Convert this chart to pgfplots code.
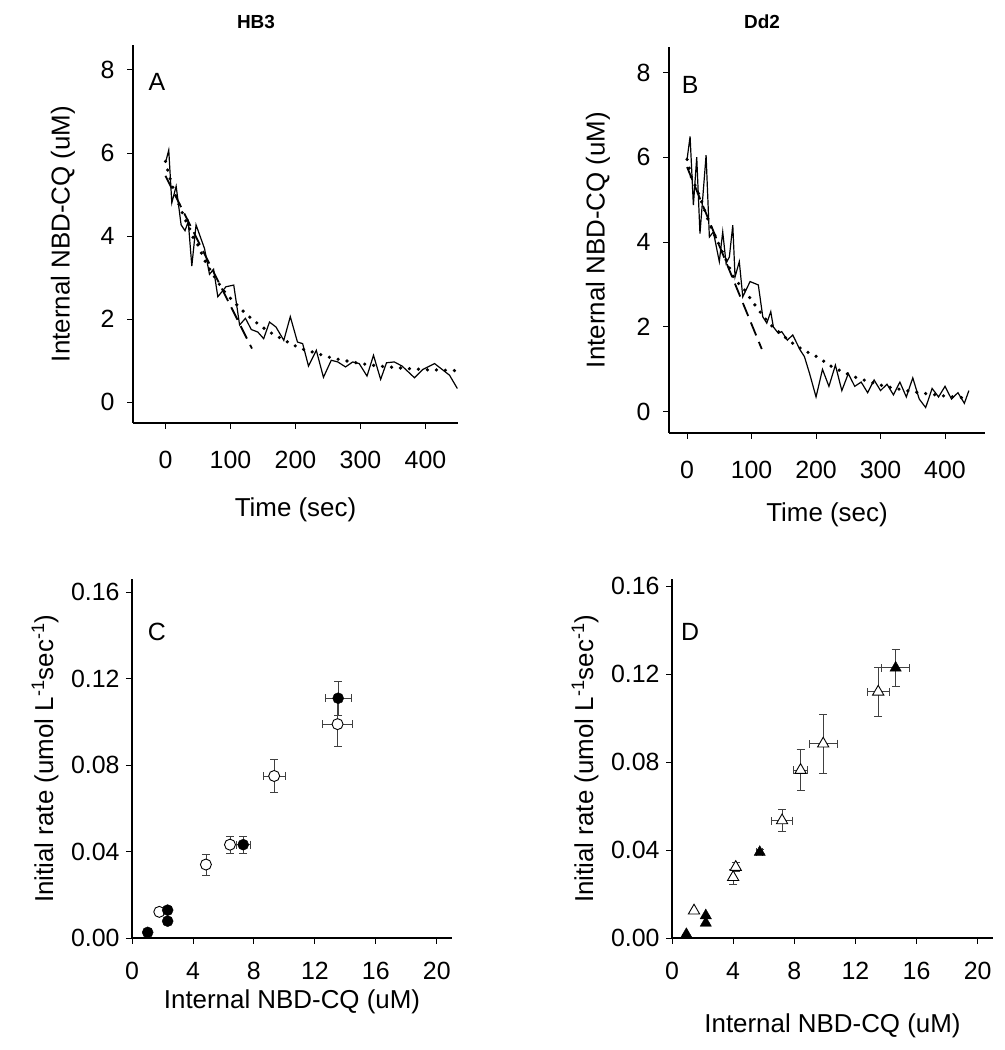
\documentclass[border=0pt]{standalone}
\usepackage{pgfplots}
\pgfplotsset{compat=1.18}
\usepackage{fontspec}
\setmainfont{Liberation Sans}
\pgfplotsset{
 base/.style={scale only axis, anchor=south west,
   axis x line*=bottom, axis y line*=left,
   axis line style={-, line width=1.1bp},
   tick align=outside, major tick length=6bp,
   tick style={line width=0.9bp, black},
   ticklabel style={font=\fontsize{25}{28}\selectfont},
   label style={font=\fontsize{26}{30}\selectfont},
   /pgf/number format/assume math mode=true, clip=false},
 raw/.style={black, line width=1.2bp, no markers},
 fit/.style={black, line width=3.6bp, dash pattern=on 0bp off 9bp, line cap=round, no markers},
 init/.style={black, line width=1.8bp, dash pattern=on 14bp off 7bp, no markers},
 eb/.style={error bars/.cd, x dir=both, x explicit, y dir=both, y explicit,
   error bar style={line width=0.8bp, black!75},
   error mark options={rotate=90, line width=0.8bp, black!75, mark size=4bp}},
}
\begin{document}
\begin{tikzpicture}
\useasboundingbox (0bp,0bp) rectangle (1005bp,1050bp);
\node[font=\bfseries\fontsize{19}{22}\selectfont] at (256bp,1028bp) {HB3};
\node[font=\bfseries\fontsize{19}{22}\selectfont] at (762bp,1028bp) {Dd2};

% Panel A
\begin{axis}[base, at={(133bp,627bp)}, width=325bp, height=378bp,
  xmin=-50, xmax=450, ymin=-0.5, ymax=8.6,
  xtick={0,100,200,300,400}, ytick={0,2,4,6,8},
  xticklabel style={yshift=-19bp}, yticklabel style={xshift=-9bp},
  xlabel style={at={(axis description cs:0.5,0)}, anchor=center, yshift=-87bp},
  ylabel style={at={(axis description cs:0,0.5)}, anchor=center, yshift=70bp},
  xlabel={Time (sec)}, ylabel={Internal NBD-CQ (uM)}]
\node[font=\fontsize{25}{28}\selectfont] at (axis cs:-13,7.7) {A};
\addplot[raw] coordinates {(0,5.77) (5,6.07) (9.7,4.8) (16.4,5.2) (24,4.27) (30,4.13) (35,4.35) (40.5,3.28) (47,4.27) (60,3.7) (67.7,3.08) (74,3.2) (80.5,2.54) (93,2.78) (105,2.82) (114,1.86) (123,2.02) (132,1.75) (142,1.69) (151,1.53) (160,1.93) (170,1.81) (182,1.49) (192,2.06) (203,1.45) (211,1.41) (220,0.87) (232,1.25) (243,0.6) (255,1.01) (265,0.97) (277,0.85) (288,0.97) (298,0.93) (310,0.63) (320,1.13) (331,0.55) (340,0.95) (352,0.97) (364,0.87) (383,0.59) (396,0.79) (414,0.93) (437,0.65) (449,0.33)};
\addplot[fit] coordinates {(0,5.8) (4,5.55) (8,5.33) (18,4.88) (29,4.43) (36,4.22) (42,3.98) (51,3.76) (56,3.56) (64,3.3) (72,3.1) (82,2.86) (92,2.63) (105,2.42) (119,2.2) (133,2.0) (147,1.83) (161,1.68) (175,1.56) (189,1.44) (203,1.33) (216,1.25) (231,1.19) (245,1.11) (258,1.06) (273,1.01) (287,0.97) (300,0.93) (315,0.9) (328,0.87) (343,0.85) (357,0.83) (371,0.81) (386,0.8) (400,0.78) (414,0.78) (428,0.77) (449,0.76)};
\addplot[init] coordinates {(0,5.45) (133,1.29)};
\end{axis}

% Panel B
\begin{axis}[base, at={(669bp,617bp)}, width=316bp, height=386bp,
  xmin=-28, xmax=462, ymin=-0.5, ymax=8.6,
  xtick={0,100,200,300,400}, ytick={0,2,4,6,8},
  xticklabel style={yshift=-19bp}, yticklabel style={xshift=-9bp},
  xlabel style={at={(axis description cs:0.5,0)}, anchor=center, yshift=-82bp},
  ylabel style={at={(axis description cs:0,0.5)}, anchor=center, yshift=71bp},
  xlabel={Time (sec)}, ylabel={Internal NBD-CQ (uM)}]
\node[font=\fontsize{25}{28}\selectfont] at (axis cs:5,7.7) {B};
\addplot[raw] coordinates {(0,5.95) (4.7,6.49) (9.8,4.87) (15,6.0) (20,4.2) (29.5,6.05) (34.6,4.12) (40.8,4.24) (50,3.54) (55.3,4.24) (60.5,3.5) (65.6,3.65) (70.9,4.4) (74.4,3.18) (81,3.54) (86.4,2.71) (97.7,3.07) (110.5,2.99) (117.4,2.24) (123.6,2.09) (129.8,2.36) (133.8,2.0) (141.6,1.85) (146.8,1.89) (155.5,1.69) (163.9,1.81) (175.2,1.46) (182,1.3) (190,0.9) (200,0.35) (210,1.0) (220,0.6) (230,1.1) (240,0.5) (250,0.9) (260,0.6) (270,0.7) (280,0.45) (290,0.75) (300,0.5) (310,0.65) (320,0.4) (330,0.7) (340,0.35) (350,0.8) (360,0.3) (370,0.1) (380,0.55) (390,0.35) (400,0.6) (410,0.3) (420,0.45) (430,0.2) (437,0.5)};
\addplot[fit] coordinates {(0,5.95) (7.3,5.5) (15,5.26) (25.3,4.83) (35.7,4.4) (50,3.93) (60.5,3.58) (71.8,3.18) (77,3.07) (88.4,2.89) (97.7,2.68) (108,2.46) (119.4,2.23) (132.9,2.0) (147.8,1.81) (162.3,1.63) (177.8,1.48) (190,1.38) (205,1.27) (220,1.1) (240,0.95) (260,0.82) (280,0.72) (300,0.63) (320,0.56) (340,0.5) (360,0.45) (380,0.41) (400,0.37) (420,0.34) (437,0.32)};
\addplot[init] coordinates {(0,5.77) (115.8,1.48)};
\end{axis}

% Panel C
\begin{axis}[base, at={(132bp,112bp)}, width=320bp, height=358.6bp,
  xmin=0, xmax=21, ymin=0, ymax=0.166,
  xtick={0,4,8,12,16,20}, ytick={0,0.04,0.08,0.12,0.16},
  yticklabel style={xshift=-3bp, /pgf/number format/.cd, fixed, fixed zerofill, precision=2},
  xticklabel style={yshift=-15bp},
  xlabel style={at={(axis description cs:0.5,0)}, anchor=center, yshift=-64bp},
  ylabel style={at={(axis description cs:0,0.5)}, anchor=center, yshift=87bp},
  xlabel={Internal NBD-CQ (uM)}, ylabel={Initial rate (umol L\textsuperscript{-1}sec\textsuperscript{-1})}]
\node[font=\fontsize{25}{28}\selectfont] at (axis cs:1.64,0.1417) {C};
\addplot[only marks, mark=*, mark size=5.5bp, mark options={fill=white, draw=black, line width=0.9bp}, eb]
  table[x=x, y=y, x error=ex, y error=ey] {
x y ex ey
1.79 0.0121 0 0
4.85 0.0340 0 0.0049
6.43 0.0432 0 0.0040
9.33 0.0750 0.73 0.0077
13.49 0.0990 1.0 0.0105
};
\addplot[only marks, mark=*, mark size=5.5bp, mark options={fill=black, draw=black}, eb]
  table[x=x, y=y, x error=ex, y error=ey] {
x y ex ey
1.03 0.0026 0 0
2.34 0.0129 0 0
2.34 0.0078 0 0
7.30 0.0432 0.44 0.0040
13.53 0.1110 0.87 0.0078
};
\end{axis}

% Panel D
\begin{axis}[base, at={(672bp,112bp)}, width=321bp, height=358.6bp,
  xmin=0, xmax=21, ymin=0, ymax=0.163,
  xtick={0,4,8,12,16,20}, ytick={0,0.04,0.08,0.12,0.16},
  yticklabel style={xshift=-3bp, /pgf/number format/.cd, fixed, fixed zerofill, precision=2},
  xticklabel style={yshift=-15bp},
  xlabel style={at={(axis description cs:0.5,0)}, anchor=center, yshift=-88bp},
  ylabel style={at={(axis description cs:0,0.5)}, anchor=center, yshift=87bp},
  xlabel={Internal NBD-CQ (uM)}, ylabel={Initial rate (umol L\textsuperscript{-1}sec\textsuperscript{-1})}]
\node[font=\fontsize{25}{28}\selectfont] at (axis cs:1.18,0.139) {D};
\addplot[only marks, mark=triangle*, mark size=6.5bp, mark options={fill=white, draw=black, line width=0.9bp}, eb]
  table[x=x, y=y, x error=ex, y error=ey] {
x y ex ey
1.44 0.0124 0 0
4.00 0.0276 0 0.0034
4.17 0.0322 0 0.0020
7.20 0.0534 0.69 0.0049
8.41 0.0763 0.44 0.0092
9.89 0.0883 0.93 0.0134
13.49 0.1119 0.70 0.0113
};
\addplot[only marks, mark=triangle*, mark size=6.5bp, mark options={fill=black, draw=black}, eb]
  table[x=x, y=y, x error=ex, y error=ey] {
x y ex ey
0.94 0.0017 0 0
2.21 0.0102 0 0
2.21 0.0068 0 0
5.74 0.0390 0.2 0.0012
14.63 0.1228 0.90 0.0084
};
\end{axis}
\end{tikzpicture}
\end{document}
